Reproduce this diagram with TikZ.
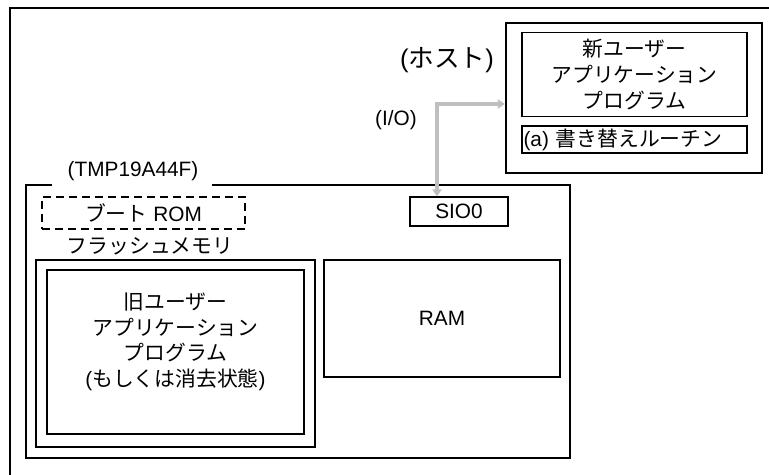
\documentclass[tikz,border=0pt]{standalone}
\usepackage{fontspec}
\setmainfont{Liberation Sans}
\newfontfamily\jp{Noto Sans CJK JP}
\newcommand{\ja}[1]{{\jp #1}}
\usetikzlibrary{arrows.meta, positioning}

\tikzset{
  box/.style={draw, line width=0.6pt},
  thickbox/.style={draw, line width=1.1pt},
  dashbox/.style={draw, line width=0.8pt, dash pattern=on 4pt off 2.5pt},
  io/.style={draw=gray!50, line width=1.6pt,
    {Triangle[length=3.5pt,width=4.5pt]}-{Triangle[length=3.5pt,width=4.5pt]}}
}

\begin{document}
\begin{tikzpicture}[x=0.5pt, y=-0.5pt, font=\fontsize{10.4}{12.8}\selectfont]
    \useasboundingbox (0,0) rectangle (769,475);
    % outer frame
    \draw[line width=1pt] (769,8) -- (10,8) -- (10,475);

    % host
    \node (host) [thickbox, minimum width=128pt, minimum height=75pt] at (634,98) {};
    \node (newapp) [box, minimum width=112.5pt, minimum height=40.5pt, align=center] at (634.5,74.5) {\ja{新ユーザー}\\\ja{アプリケーション}\\\ja{プログラム}};
    \node (rewrite) [box, minimum width=112.5pt, minimum height=13.5pt, text width=111pt, inner sep=0.6pt, align=left] at (634.5,139.5) {(a) \ja{書き替えルーチン}};
    \node (hostlbl) [font=\fontsize{12.8}{15}\selectfont] at (447,60) {(\ja{ホスト})};
    \node (iolbl) at (396,120) {(I/O)};

    % TMP19A44F
    \draw[line width=0.8pt] (52,185) -| (26,458) -| (570,185) -- (212,185);
    \node (chiplbl) at (133,171) {(TMP19A44F)};
    \node (bootrom) [dashbox, minimum width=101.5pt, minimum height=16pt] at (143.5,213) {\ja{ブート} ROM};
    \node (flashlbl) at (150,246) {\ja{フラッシュメモリ}};
    \node (flash) [thickbox, minimum width=139.5pt, minimum height=93.5pt] at (175.5,353.5) {};
    \node (oldapp) [box, minimum width=128.5pt, minimum height=82pt] at (175.5,352) {};
    \node (oldtxt) [align=center] at ([yshift=5pt]oldapp.center) {\ja{旧ユーザー}\\\ja{アプリケーション}\\\ja{プログラム}\\(\ja{もしくは消去状態})};
    \node (ram) [box, minimum width=118pt, minimum height=58.5pt] at (442,318.5) {RAM};
    \node (sio) [box, minimum width=49pt, minimum height=14.5pt] at (459,211.5) {SIO0};

    % serial link
    \coordinate (bend) at (437,104);
    \draw[io] (host.west |- bend) -- (bend) -- (bend |- sio.north);
\end{tikzpicture}
\end{document}
